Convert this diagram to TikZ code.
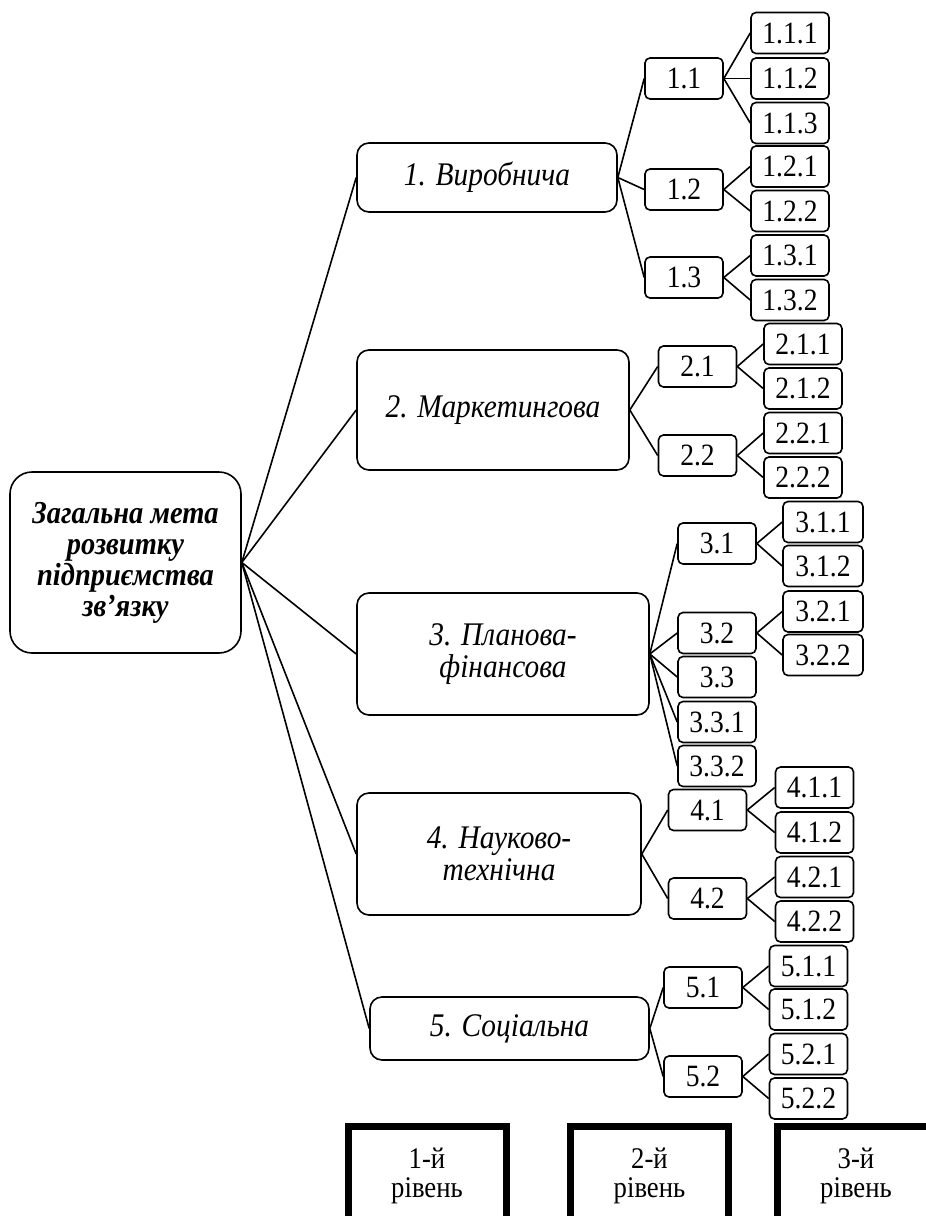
\documentclass[tikz,border=0pt]{standalone}
\usepackage{fontspec}
\setmainfont[FakeStretch=0.89]{Liberation Serif}
\usetikzlibrary{positioning}

\tikzset{
  meta/.style={draw, line width=1.6pt, rounded corners=22pt, align=center, inner sep=0pt,
    minimum width=231pt, minimum height=181pt, font=\fontsize{32}{31}\selectfont\bfseries\itshape},
  napr/.style={draw, line width=1.6pt, rounded corners=12pt, align=center, inner sep=0pt,
    font=\fontsize{33}{32}\selectfont\itshape},
  pidnapr/.style={draw, line width=1.6pt, rounded corners=5pt, inner sep=0pt,
    minimum width=78pt, minimum height=41pt, font=\fontsize{31}{30}\selectfont},
  riven/.style={draw, line width=7pt, align=center, inner sep=0pt,
    minimum width=158pt, minimum height=100pt, font=\fontsize{30}{29}\selectfont},
  zv/.style={line width=1.6pt},
}

\begin{document}
\begin{tikzpicture}[x=1pt, y=-1pt]

		\useasboundingbox (0,0) rectangle (926,1216);
		\clip (0,0) rectangle (926,1216);

		% Загальна мета
		\node[meta] (m) at (125.5,562.5) {Загальна мета\\розвитку\\підприємства\\зв’язку};

		% Перший рівень
		\node[napr, minimum width=260pt, minimum height=69pt] (n1) at (487,177.5) {1. Виробнича};
		\node[napr, minimum width=272pt, minimum height=120pt] (n2) at (493,410) {2. Маркетингова};
		\node[napr, minimum width=292pt, minimum height=122pt] (n3) at (503,654) {3. Планова-\\фінансова};
		\node[napr, minimum width=284pt, minimum height=122pt] (n4) at (499,854) {4. Науково-\\технічна};
		\node[napr, minimum width=279pt, minimum height=63pt] (n5) at (509.5,1028.5) {5. Соціальна};

		% Другий рівень
		\node[pidnapr] (n11) at (684,78.5) {1.1};
		\node[pidnapr] (n12) at (684,189.5) {1.2};
		\node[pidnapr] (n13) at (684,277.5) {1.3};
		\node[pidnapr] (n21) at (697.5,366.5) {2.1};
		\node[pidnapr] (n22) at (697.5,455.5) {2.2};
		\node[pidnapr] (n31) at (717,543.5) {3.1};
		\node[pidnapr] (n32) at (717,633) {3.2};
		\node[pidnapr] (n33) at (717,677) {3.3};
		\node[pidnapr] (n331) at (717,722) {3.3.1};
		\node[pidnapr] (n332) at (717,766) {3.3.2};
		\node[pidnapr] (n41) at (707.5,810) {4.1};
		\node[pidnapr] (n42) at (707.5,898.5) {4.2};
		\node[pidnapr] (n51) at (703,987.5) {5.1};
		\node[pidnapr] (n52) at (703,1076.5) {5.2};

		% Третій рівень
		\node[pidnapr] (n111) at (790,33) {1.1.1};
		\node[pidnapr] (n112) at (790,78.5) {1.1.2};
		\node[pidnapr] (n113) at (790,123) {1.1.3};
		\node[pidnapr] (n121) at (790,166.5) {1.2.1};
		\node[pidnapr] (n122) at (790,211) {1.2.2};
		\node[pidnapr] (n131) at (790,255.5) {1.3.1};
		\node[pidnapr] (n132) at (790,300) {1.3.2};
		\node[pidnapr] (n211) at (803,344) {2.1.1};
		\node[pidnapr] (n212) at (803,388.5) {2.1.2};
		\node[pidnapr] (n221) at (803,433) {2.2.1};
		\node[pidnapr] (n222) at (803,477.5) {2.2.2};
		\node[pidnapr, minimum width=80pt] (n311) at (823,522) {3.1.1};
		\node[pidnapr, minimum width=80pt] (n312) at (823,566) {3.1.2};
		\node[pidnapr, minimum width=80pt] (n321) at (823,611.5) {3.2.1};
		\node[pidnapr, minimum width=80pt] (n322) at (823,655) {3.2.2};
		\node[pidnapr] (n411) at (814.5,787.5) {4.1.1};
		\node[pidnapr] (n412) at (814.5,832.5) {4.1.2};
		\node[pidnapr] (n421) at (814.5,877) {4.2.1};
		\node[pidnapr] (n422) at (814.5,921.5) {4.2.2};
		\node[pidnapr] (n511) at (808.5,966) {5.1.1};
		\node[pidnapr] (n512) at (808.5,1009.5) {5.1.2};
		\node[pidnapr] (n521) at (808.5,1054) {5.2.1};
		\node[pidnapr] (n522) at (808.5,1098.5) {5.2.2};

		% Зв'язки
		\foreach \a/\b in {m/n1, m/n2, m/n3, m/n4, m/n5,
			n1/n11, n1/n12, n1/n13, n2/n21, n2/n22,
			n3/n31, n3/n32, n3/n33, n3/n331, n3/n332,
			n4/n41, n4/n42, n5/n51, n5/n52,
			n11/n111, n11/n112, n11/n113, n12/n121, n12/n122, n13/n131, n13/n132,
			n21/n211, n21/n212, n22/n221, n22/n222,
			n31/n311, n31/n312, n32/n321, n32/n322,
			n41/n411, n41/n412, n42/n421, n42/n422,
			n51/n511, n51/n512, n52/n521, n52/n522}
			\draw[zv] (\a.east) -- (\b.west);

		% Рівні
		\node[riven] (r1) at (427,1176) {1-й\\рівень};
		\node[riven] (r2) at (649.5,1176) {2-й\\рівень};
		\node[riven] (r3) at (856,1176) {3-й\\рівень};

\end{tikzpicture}
\end{document}
